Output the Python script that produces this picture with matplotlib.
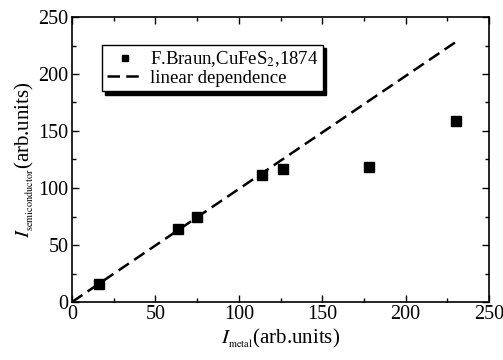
import matplotlib
matplotlib.use("Agg")
import matplotlib.pyplot as plt
from matplotlib.ticker import MultipleLocator

plt.rcParams["font.family"] = ["Liberation Serif", "DejaVu Serif"]
plt.rcParams["mathtext.fontset"] = "stix"

i_metal = [16, 63.5, 75, 114, 126.5, 178, 230]
i_semi = [16, 64, 75, 111, 117, 118.5, 158.5]

# linear dependence guide line
lin_x = [0, 231]
lin_y = [0, 229]

fig = plt.figure(figsize=(5.03, 3.6), dpi=100)
ax = fig.add_axes([72 / 503, 1 - 302 / 360, (489 - 72) / 503, (302 - 17) / 360])

ax.plot(lin_x, lin_y, color="black", linestyle=(0, (5, 2.5)), linewidth=1.8,
        label="linear dependence")
ax.plot(i_metal, i_semi, linestyle="none", marker="s", markersize=6.5,
        color="black", label="F.Braun,CuFeS$_2$,1874")

ax.set_xlim(0, 250)
ax.set_ylim(0, 250)
ax.xaxis.set_major_locator(MultipleLocator(50))
ax.yaxis.set_major_locator(MultipleLocator(50))
ax.xaxis.set_minor_locator(MultipleLocator(25))
ax.yaxis.set_minor_locator(MultipleLocator(25))
ax.tick_params(which="both", direction="in", top=True, right=True, labelsize=14.5)
ax.tick_params(which="major", length=5, width=1, pad=2.5)
ax.tick_params(which="minor", length=3, width=1)
for s in ax.spines.values():
    s.set_linewidth(1.2)

ax.set_xlabel(r"$I_{{}_{\mathrm{metal}}}$(arb.units)", fontsize=15, labelpad=2)
ax.set_ylabel(r"$I_{{}_{\mathrm{semiconductor}}}$(arb.units)", fontsize=15, labelpad=2)

handles, labels = ax.get_legend_handles_labels()
leg = ax.legend(handles[::-1], labels[::-1], loc="upper left",
                bbox_to_anchor=(0.072, 0.902), borderaxespad=0, fontsize=13.5,
                frameon=True, fancybox=False,
                shadow={"color": "black", "alpha": 1, "ox": 2.5, "oy": -2.5},
                handlelength=2.0, handletextpad=0.3, borderpad=0.25,
                labelspacing=0.0, markerscale=0.7)
leg.get_frame().set_edgecolor("black")
leg.get_frame().set_linewidth(1.0)

fig.savefig("out.png", dpi=100)
